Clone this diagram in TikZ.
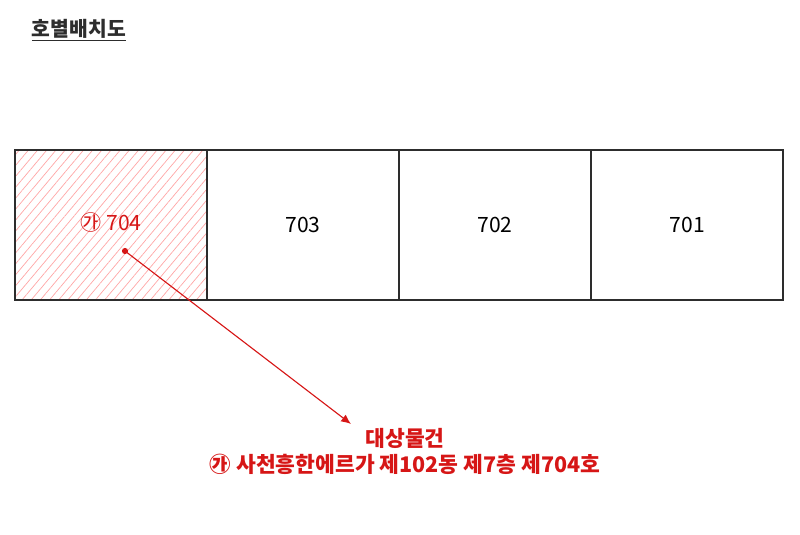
\documentclass[tikz,border=0pt]{standalone}
\usepackage{fontspec}
\setmainfont{Noto Sans CJK KR}
\usepackage{tikz}
\usetikzlibrary{positioning}
\usetikzlibrary{patterns.meta,arrows.meta}
\definecolor{hotred}{RGB}{214,22,22}
\definecolor{ink}{RGB}{45,45,45}

\begin{document}
\begin{tikzpicture}[x=0.025cm, y=-0.025cm,
    room/.style={draw=ink, line width=1pt, minimum width=4.8cm, minimum height=3.75cm,
      outer sep=0pt, inner sep=0pt, font=\fontsize{15}{17}\selectfont}]
      \useasboundingbox (0,0) rectangle (800,534);
      \node(title) [anchor=west, text=ink, font=\bfseries\fontsize{14.5}{17}\selectfont] at (27,30) {\underline{호별배치도}};

      \node(r704) [room, pattern={Lines[angle=50,distance=5pt,line width=0.5pt]}, pattern color=red!35] at (111,225) {};
      \node(r703) [room, right=0pt of r704] {703};
      \node(r702) [room, right=0pt of r703] {702};
      \node(r701) [room, right=0pt of r702] {701};
      \node(l704) [text=hotred, font=\fontsize{15}{17}\selectfont] at (111,222) {㉮ 704};

      \coordinate(pin) at (125,251);
      \coordinate(tip) at (351,424);
      \fill[hotred] (pin) circle (2.2pt);
      \draw[hotred, line width=0.8pt, -{Latex[length=7pt,width=6pt]}] (pin) -- (tip);
      \node(target) [text=hotred, align=center, anchor=north, font=\bfseries\fontsize{15.3}{18.5}\selectfont] at (405,423) {대상물건\\㉮ 사천흥한에르가 제102동 제7층 제704호};
    \end{tikzpicture}
\end{document}
